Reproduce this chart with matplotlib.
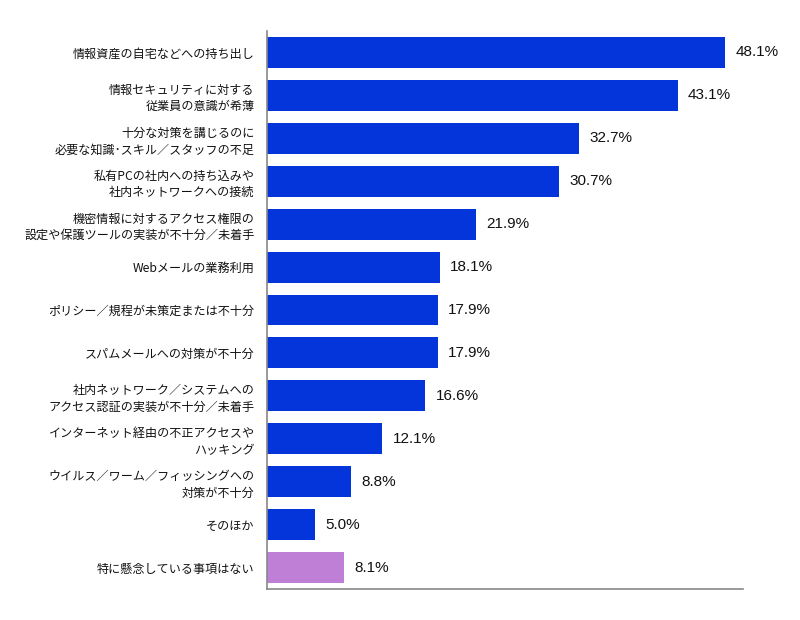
import matplotlib
matplotlib.use("Agg")
import matplotlib.pyplot as plt

plt.rcParams['font.family'] = ['Noto Sans CJK JP', 'DejaVu Sans']

# --- datos ---
categorias = [
    "情報資産の自宅などへの持ち出し",
    "情報セキュリティに対する\n従業員の意識が希薄",
    "十分な対策を講じるのに\n必要な知識･スキル／スタッフの不足",
    "私有PCの社内への持ち込みや\n社内ネットワークへの接続",
    "機密情報に対するアクセス権限の\n設定や保護ツールの実装が不十分／未着手",
    "Webメールの業務利用",
    "ポリシー／規程が未策定または不十分",
    "スパムメールへの対策が不十分",
    "社内ネットワーク／システムへの\nアクセス認証の実装が不十分／未着手",
    "インターネット経由の不正アクセスや\nハッキング",
    "ウイルス／ワーム／フィッシングへの\n対策が不十分",
    "そのほか",
    "特に懸念している事項はない",
]
valores = [48.1, 43.1, 32.7, 30.7, 21.9, 18.1, 17.9, 17.9, 16.6, 12.1, 8.8, 5.0, 8.1]

AZUL = "#0335da"
ROSA = "#c07fd6"
colores = [AZUL] * (len(valores) - 1) + [ROSA]

fig = plt.figure(figsize=(8, 6.2), dpi=100)
ax = fig.add_axes([0.334, 0.05, 0.595, 0.90])

y = list(range(len(valores)))
ax.barh(y, valores, height=0.72, color=colores)

for yi, v in zip(y, valores):
    ax.text(v + 1.1, yi, f"{v:.1f}%", va="center", ha="left",
            fontsize=11, family=["Liberation Sans", "DejaVu Sans"], color="#111111")

ax.set_xlim(0, 50)
ax.set_ylim(len(valores) - 0.5, -0.5)
ax.set_yticks(y)
ax.set_yticklabels(categorias, fontsize=8.7, linespacing=1.35, color="#111111")
ax.tick_params(axis="y", length=0, pad=9)
ax.set_xticks([])

for lado in ["top", "right"]:
    ax.spines[lado].set_visible(False)
for lado in ["left", "bottom"]:
    ax.spines[lado].set_color("#888888")
    ax.spines[lado].set_linewidth(1.2)

fig.savefig("out.png", dpi=100)
